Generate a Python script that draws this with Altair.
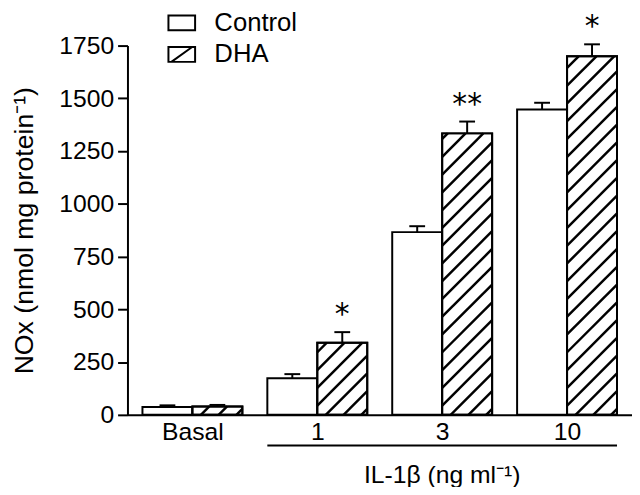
import altair as alt
import pandas as pd

# ---- data ----
categories = ["Basal", "1", "3", "10"]
series = ["Control", "DHA"]
control_mean = [37, 173, 866, 1447]
control_sem = [8, 20, 28, 32]
dha_mean = [40, 342, 1334, 1699]
dha_sem = [7, 50, 56, 57]
dha_signif = ["", "*", "**", "*"]
y_ticks = [0, 250, 500, 750, 1000, 1250, 1500, 1750]

FONT = "Liberation Sans"
FS = 25
W, H = 511, 374
XMIN, XMAX = -0.52, 3.52
YMAX = 1750
PX_X = W / (XMAX - XMIN)
PX_Y = H / YMAX
HALF = 0.2      # offset of each bar from the group centre
BW = 0.4        # bar width in x units

rows = []
for i, c in enumerate(categories):
    for s, m, e in ((series[0], control_mean[i], control_sem[i]),
                    (series[1], dha_mean[i], dha_sem[i])):
        cx = i - HALF if s == "Control" else i + HALF
        rows.append(dict(cat=c, series=s, x0=cx - BW / 2, x1=cx + BW / 2,
                         xc=cx, mean=m, top=m + e,
                         cap0=cx - 8 / PX_X, cap1=cx + 8 / PX_X,
                         sig=dha_signif[i] if s == "DHA" else ""))
df = pd.DataFrame(rows)

# hatch lines (45 deg) clipped to each DHA bar, derived from the bar values
hatch = []
spacing = 18
for r in rows:
    if r["series"] != "DHA":
        continue
    w = BW * PX_X
    h = r["mean"] * PX_Y
    c = -w + 6
    while c < h:
        u0 = max(0.0, -c)
        u1 = min(w, h - c)
        if u1 > u0:
            hatch.append(dict(xa=r["x0"] + u0 / PX_X, ya=(u0 + c) / PX_Y,
                              xb=r["x0"] + u1 / PX_X, yb=(u1 + c) / PX_Y))
        c += spacing
hdf = pd.DataFrame(hatch)

xscale = alt.Scale(domain=[XMIN, XMAX], nice=False, zero=False)
yscale = alt.Scale(domain=[0, YMAX], nice=False)

label_expr = " : ".join(
    f"datum.value == {i} ? '{c}'" for i, c in enumerate(categories)) + " : ''"

xaxis = alt.Axis(values=list(range(len(categories))), labelExpr=label_expr,
                 ticks=False, grid=False, domainColor="black", domainWidth=2,
                 labelFont=FONT, labelFontSize=FS, labelColor="black",
                 labelPadding=5, title=None)
yaxis = alt.Axis(values=y_ticks, format="d", grid=False, domainColor="black",
                 domainWidth=2, tickColor="black", tickWidth=2, tickSize=10,
                 labelFont=FONT, labelFontSize=FS, labelColor="black",
                 labelPadding=4, title="NOx (nmol mg protein⁻¹)",
                 titleFont=FONT, titleFontSize=27, titleFontWeight="normal",
                 titleColor="black", titlePadding=21)

base = alt.Chart(df)

bars = base.mark_rect(fill="white", stroke="black", strokeWidth=2).encode(
    x=alt.X("x0:Q", scale=xscale, axis=xaxis),
    x2="x1:Q",
    y=alt.Y("mean:Q", scale=yscale, axis=yaxis),
    y2=alt.datum(0),
)

hatch_lines = alt.Chart(hdf).mark_rule(color="black", strokeWidth=2.5).encode(
    x="xa:Q", y="ya:Q", x2="xb:Q", y2="yb:Q")

outline = base.transform_filter("datum.series == 'DHA'").mark_rect(
    fill=None, stroke="black", strokeWidth=2).encode(
    x="x0:Q", x2="x1:Q", y="mean:Q", y2=alt.datum(0))

err = base.mark_rule(color="black", strokeWidth=2).encode(
    x="xc:Q", y="mean:Q", y2="top:Q")
cap = base.mark_rule(color="black", strokeWidth=2).encode(
    x="cap0:Q", x2="cap1:Q", y="top:Q")

stars = base.transform_filter("datum.sig != ''").mark_text(
    font="DejaVu Sans", fontSize=30, fontWeight="normal", baseline="alphabetic",
    dy=-8, color="black").encode(
    x="xc:Q", y="top:Q", text="sig:N")

# IL-1beta bracket under the stimulated groups
bracket_df = pd.DataFrame([dict(xs=rows[2]["x0"], xe=rows[-1]["x1"],
                                mid=(rows[2]["x0"] + rows[-1]["x1"]) / 2,
                                label="IL-1β (ng ml⁻¹)")])
bracket = alt.Chart(bracket_df).mark_rule(color="black", strokeWidth=2).encode(
    x="xs:Q", x2="xe:Q", y=alt.value(H + 31))
bracket_text = alt.Chart(bracket_df).mark_text(
    font=FONT, fontSize=FS, color="black", baseline="middle").encode(
    x="mid:Q", y=alt.value(H + 61), text="label:N")

# legend
leg_df = pd.DataFrame(dict(series=series, xc=[0, 0], mean=[0, 0]))
legend_pts = alt.Chart(leg_df).mark_point(opacity=0).encode(
    x="xc:Q", y="mean:Q",
    shape=alt.Shape("series:N", scale=alt.Scale(
        domain=series,
        range=["M-1.8,-1H1.8V1H-1.8Z", "M-1.8,-1H1.8V1H-1.8Z M-1.4,1L1.4,-1"]),
        legend=alt.Legend(title=None, orient="none", legendX=42, legendY=-36,
                          symbolSize=225, symbolStrokeColor="black",
                          symbolFillColor="white", symbolStrokeWidth=2,
                          symbolOpacity=1, labelFont=FONT, labelFontSize=26,
                          labelColor="black", labelOffset=20, rowPadding=6)))

chart = alt.layer(bars, hatch_lines, outline, err, cap, stars, bracket,
                  bracket_text, legend_pts).properties(
    width=W, height=H, autosize="none",
    padding={"left": 121, "top": 35, "right": 0, "bottom": 70},
).configure_view(stroke=None)

chart.save("out.html", embed_options={"renderer": "svg", "actions": False})
